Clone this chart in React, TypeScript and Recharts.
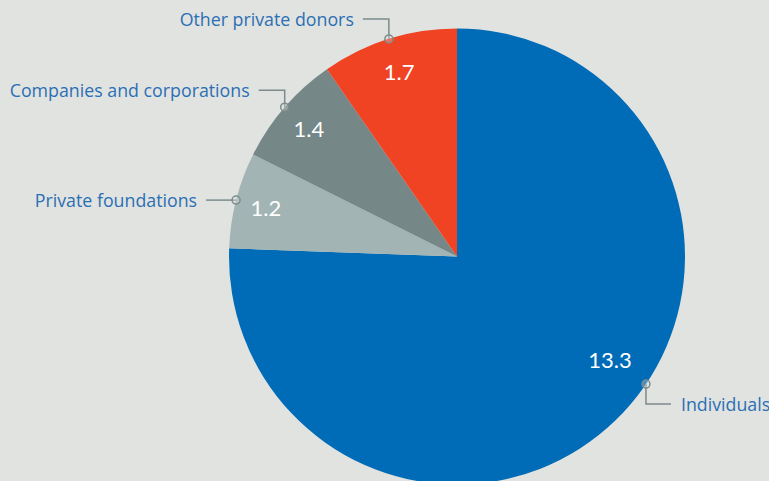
import { PieChart, Pie, Cell } from "recharts";

const donorNames = ["Individuals", "Private foundations", "Companies and corporations", "Other private donors"];
const donorValues = [13.3, 1.2, 1.4, 1.7];

const colors: Record<string, string> = {
  Individuals: "#006bb6",
  "Private foundations": "#a3b4b4",
  "Companies and corporations": "#758787",
  "Other private donors": "#ef4324",
};

// label placement tweaks (angle shift in degrees, elbow leg lengths, value label radius ratio)
const labelCfg: Record<string, { shift: number; up: number; across: number; valueR: number }> = {
  Individuals: { shift: 12, up: 20, across: 25, valueR: 0.81 },
  "Private foundations": { shift: 0, up: 0, across: -30, valueR: 0.865 },
  "Companies and corporations": { shift: 0, up: -17, across: -26, valueR: 0.86 },
  "Other private donors": { shift: 0, up: -20, across: -26, valueR: 0.85 },
};

const data = donorNames.map((name, i) => ({ name, value: donorValues[i] }));

const RAD = Math.PI / 180;
const NAME_FONT = "'Open Sans', 'Noto Sans', sans-serif";
const VALUE_FONT = "Lato, 'Noto Sans', sans-serif";

function renderLabel(props: any) {
  const { cx, cy, midAngle, outerRadius, name, value } = props;
  const cfg = labelCfg[name];
  const ang = (midAngle + cfg.shift) * RAD;
  const mx = cx + outerRadius * Math.cos(ang);
  const my = cy - outerRadius * Math.sin(ang);
  const vx = cx + outerRadius * cfg.valueR * Math.cos(ang);
  const vy = cy - outerRadius * cfg.valueR * Math.sin(ang);
  const ey = my + cfg.up;
  const ex = mx + cfg.across;
  const right = cfg.across > 0;
  return (
    <g>
      <text x={vx} y={vy} fill="#ffffff" fontSize={22} fontFamily={VALUE_FONT} textAnchor="middle" dominantBaseline="central">
        {value}
      </text>
      <polyline points={`${mx},${my} ${mx},${ey} ${ex},${ey}`} fill="none" stroke="#7c8c8c" strokeWidth={1.5} />
      <circle cx={mx} cy={my} r={4} fill="#e1e3e0" stroke="#7c8c8c" strokeWidth={1.5} fillOpacity={0.3} />
      <text
        x={ex + (right ? 10 : -9)}
        y={ey}
        fill="#2b6fb4"
        fontSize={17.8}
        fontFamily={NAME_FONT}
        textAnchor={right ? "start" : "end"}
        dominantBaseline="central"
      >
        {name}
      </text>
    </g>
  );
}

export default function App() {
  return (
    <div style={{ width: 769, height: 481, background: "#e1e3e0", overflow: "hidden" }}>
      <style>{`body{margin:0;background:#e1e3e0}`}</style>
      <PieChart width={769} height={481} margin={{ top: 0, right: 0, bottom: 0, left: 0 }}>
        <Pie
          data={data}
          dataKey="value"
          nameKey="name"
          cx={457}
          cy={256.5}
          outerRadius={228}
          startAngle={90}
          endAngle={-270}
          label={renderLabel}
          labelLine={false}
          isAnimationActive={false}
          stroke="none"
        >
          {data.map((d) => (
            <Cell key={d.name} fill={colors[d.name]} />
          ))}
        </Pie>
      </PieChart>
    </div>
  );
}
